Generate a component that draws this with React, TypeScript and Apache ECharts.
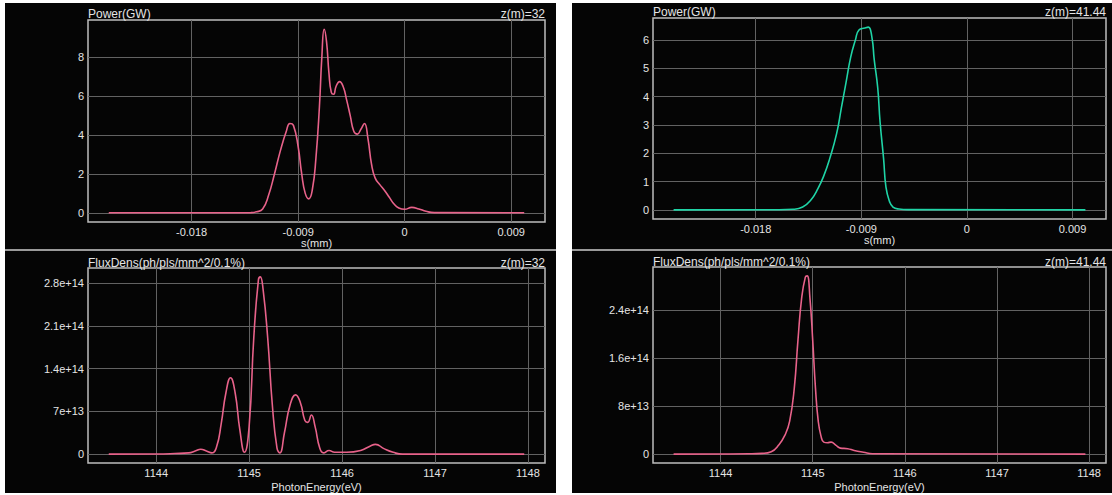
import { useEffect, useRef } from "react";
import * as echarts from "echarts";

// Tick positions shared by the panels
const sTicks = [-0.018, -0.009, 0, 0.009];
const energyTicks = [1144, 1145, 1146, 1147, 1148];
const powerTicksZ32 = [0, 2, 4, 6, 8];
const powerTicksZ4144 = [0, 1, 2, 3, 4, 5, 6];
const fluxTicksZ32 = [0, 7e13, 1.4e14, 2.1e14, 2.8e14];
const fluxTicksZ4144 = [0, 8e13, 1.6e14, 2.4e14];

// Power profile at z = 32 m
const sZ32 = [
  -0.025, -0.016, -0.013, -0.0125, -0.012, -0.0115, -0.011, -0.0105, -0.01, -0.0097,
  -0.0094, -0.009, -0.0087, -0.0084, -0.0081, -0.0078, -0.0075, -0.0072, -0.007, -0.0068,
  -0.0066, -0.0064, -0.0062, -0.006, -0.0058, -0.0055, -0.0052, -0.0049, -0.0046, -0.0043,
  -0.004, -0.0037, -0.0034, -0.0031, -0.0028, -0.0025, -0.0021, -0.0017, -0.0013, -0.0009,
  -0.0005, 0.0, 0.0006, 0.0012, 0.0018, 0.0025, 0.0101,
];
const powerZ32 = [
  0, 0, 0.01, 0.05, 0.2, 0.9, 2.0, 3.2, 4.2, 4.6,
  4.5, 3.4, 2.0, 1.0, 0.72, 1.2, 2.8, 5.5, 8.0, 9.45,
  8.8, 7.2, 6.2, 6.1, 6.5, 6.75, 6.5, 5.8, 5.0, 4.2,
  4.05, 4.3, 4.6, 3.8, 2.5, 1.8, 1.45, 1.15, 0.8, 0.45,
  0.25, 0.18, 0.28, 0.2, 0.08, 0.01, 0,
];

// Power profile at z = 41.44 m
const sZ4144 = [
  -0.025, -0.0161, -0.0148, -0.014, -0.0133, -0.0127, -0.0122, -0.0117, -0.0111, -0.0107,
  -0.0103, -0.0099, -0.0095, -0.0092, -0.0087, -0.0084, -0.0081, -0.0079, -0.0076, -0.0074,
  -0.0071, -0.0069, -0.0066, -0.0063, -0.0058, -0.005, 0.0101,
];
const powerZ4144 = [
  0, 0.005, 0.02, 0.1, 0.35, 0.75, 1.2, 1.8, 2.7, 3.6,
  4.5, 5.4, 6.0, 6.35, 6.42, 6.45, 6.1, 5.3, 4.3, 3.1,
  1.8, 0.8, 0.3, 0.1, 0.03, 0.01, 0,
];

// Spectral flux density at z = 32 m
const energyZ32 = [
  1143.49, 1144.0, 1144.2, 1144.35, 1144.42, 1144.48, 1144.54, 1144.6, 1144.65, 1144.7,
  1144.75, 1144.8, 1144.85, 1144.9, 1144.95, 1145.0, 1145.05, 1145.1, 1145.12, 1145.15,
  1145.2, 1145.25, 1145.3, 1145.33, 1145.38, 1145.44, 1145.5, 1145.55, 1145.6, 1145.63,
  1145.67, 1145.71, 1145.76, 1145.8, 1145.86, 1145.92, 1146.05, 1146.2, 1146.3, 1146.36,
  1146.45, 1146.55, 1146.65, 1147.96,
];
const fluxZ32 = [
  0, 0.003e14, 0.01e14, 0.02e14, 0.05e14, 0.08e14, 0.05e14, 0.02e14, 0.12e14, 0.5e14,
  1.0e14, 1.25e14, 1.0e14, 0.4e14, 0.03e14, 0.45e14, 1.9e14, 2.85e14, 2.9e14, 2.7e14,
  1.9e14, 0.8e14, 0.1e14, 0.02e14, 0.35e14, 0.8e14, 0.97e14, 0.85e14, 0.55e14, 0.52e14,
  0.64e14, 0.45e14, 0.1e14, 0.02e14, 0.06e14, 0.03e14, 0.03e14, 0.06e14, 0.13e14, 0.16e14,
  0.09e14, 0.03e14, 0, 0,
];

// Spectral flux density at z = 41.44 m
const energyZ4144 = [
  1143.49, 1144.0, 1144.3, 1144.45, 1144.55, 1144.63, 1144.7, 1144.75, 1144.8, 1144.84,
  1144.88, 1144.92, 1144.94, 1144.97, 1145.0, 1145.03, 1145.06, 1145.09, 1145.12, 1145.16,
  1145.2, 1145.25, 1145.3, 1145.38, 1145.45, 1145.55, 1145.65, 1147.96,
];
const fluxZ4144 = [
  0, 0.002e14, 0.005e14, 0.012e14, 0.04e14, 0.15e14, 0.32e14, 0.55e14, 1.1e14, 1.9e14,
  2.6e14, 2.95e14, 2.97e14, 2.6e14, 1.9e14, 1.1e14, 0.55e14, 0.3e14, 0.2e14, 0.19e14,
  0.2e14, 0.15e14, 0.1e14, 0.09e14, 0.06e14, 0.03e14, 0.005e14, 0,
];

const PINK = "#e8628a";
const TEAL = "#1fd4a6";
const TEXT = "#e4e4e4";
const FONT = '"Liberation Sans", Arial, sans-serif';

function paddedRange(values: number[]): [number, number] {
  const lo = Math.min(...values);
  const hi = Math.max(...values);
  const pad = (hi - lo) * 0.05;
  return [lo - pad, hi + pad];
}

function zip(xs: number[], ys: number[]) {
  return xs.map((x, i) => [x, ys[i]]);
}

const expLabel = (v: number) => (v === 0 ? "0" : v.toExponential());

export default function App() {
  const ref = useRef<HTMLDivElement>(null);

  useEffect(() => {
    if (!ref.current) return;
    const chart = echarts.init(ref.current, undefined, { renderer: "svg" });

    const grids = [
      { left: 88, top: 20, width: 457, height: 202 },
      { left: 653, top: 18, width: 453, height: 201 },
      { left: 88, top: 268, width: 457, height: 202 },
      { left: 653, top: 267, width: 453, height: 200 },
    ].map((g) => ({
      ...g,
      show: true,
      borderColor: "#bdbdbd",
      borderWidth: 1.5,
      backgroundColor: "transparent",
    }));

    const sRange = paddedRange(sZ32.concat(sZ4144));
    const eRange = paddedRange(energyZ32.concat(energyZ4144));

    const xAxisBase = (gridIndex: number, range: [number, number], ticks: number[], name: string, gap: number) => ({
      type: "value" as const,
      gridIndex,
      min: range[0],
      max: range[1],
      axisLine: { show: false },
      axisTick: { show: false, customValues: ticks },
      axisLabel: {
        customValues: ticks,
        color: TEXT,
        fontSize: 11,
        fontFamily: FONT,
        margin: 4,
        formatter: (v: number) => String(v),
      },
      splitLine: { show: true, lineStyle: { color: "#626262", width: 1 } },
      name,
      nameLocation: "middle" as const,
      nameGap: gap,
      nameTextStyle: { color: TEXT, fontSize: 11, fontFamily: FONT },
    });

    const yAxisBase = (gridIndex: number, range: [number, number], ticks: number[], fmt: (v: number) => string) => ({
      type: "value" as const,
      gridIndex,
      min: range[0],
      max: range[1],
      axisLine: { show: false },
      axisTick: { show: false, customValues: ticks },
      axisLabel: {
        customValues: ticks,
        color: TEXT,
        fontSize: 11,
        fontFamily: FONT,
        margin: 4,
        formatter: fmt,
      },
      splitLine: { show: true, lineStyle: { color: "#626262", width: 1 } },
    });

    const lineSeries = (idx: number, data: number[][], color: string) => ({
      type: "line" as const,
      xAxisIndex: idx,
      yAxisIndex: idx,
      data,
      showSymbol: false,
      smooth: 0.5,
      lineStyle: { color, width: 1.6 },
      z: 3,
    });

    const text = (x: number, y: number, str: string, align: "left" | "right") => ({
      type: "text" as const,
      x,
      y,
      style: {
        text: str,
        fill: TEXT,
        font: `12px ${FONT}`,
        textAlign: align,
        textVerticalAlign: "middle",
      },
    });

    chart.setOption({
      animation: false,
      backgroundColor: "transparent",
      grid: grids,
      xAxis: [
        xAxisBase(0, sRange, sTicks, "s(mm)", 15),
        xAxisBase(1, sRange, sTicks, "s(mm)", 15),
        xAxisBase(2, eRange, energyTicks, "PhotonEnergy(eV)", 18),
        xAxisBase(3, eRange, energyTicks, "PhotonEnergy(eV)", 18),
      ],
      yAxis: [
        yAxisBase(0, paddedRange(powerZ32), powerTicksZ32, (v) => String(v)),
        yAxisBase(1, paddedRange(powerZ4144), powerTicksZ4144, (v) => String(v)),
        yAxisBase(2, paddedRange(fluxZ32), fluxTicksZ32, expLabel),
        yAxisBase(3, paddedRange(fluxZ4144), fluxTicksZ4144, expLabel),
      ],
      series: [
        lineSeries(0, zip(sZ32, powerZ32), PINK),
        lineSeries(1, zip(sZ4144, powerZ4144), TEAL),
        lineSeries(2, zip(energyZ32, fluxZ32), PINK),
        lineSeries(3, zip(energyZ4144, fluxZ4144), PINK),
      ],
      graphic: [
        text(88, 14, "Power(GW)", "left"),
        text(545, 14, "z(m)=32", "right"),
        text(653, 12, "Power(GW)", "left"),
        text(1106, 12, "z(m)=41.44", "right"),
        text(88, 263, "FluxDens(ph/pls/mm^2/0.1%)", "left"),
        text(545, 263, "z(m)=32", "right"),
        text(653, 262, "FluxDens(ph/pls/mm^2/0.1%)", "left"),
        text(1106, 262, "z(m)=41.44", "right"),
      ],
    });

    return () => chart.dispose();
  }, []);

  const panel = (left: number, top: number, width: number, height: number) => (
    <div
      style={{
        position: "absolute",
        left,
        top,
        width,
        height,
        background: "#050505",
      }}
    />
  );

  return (
    <div
      style={{
        position: "fixed",
        left: 0,
        top: 0,
        width: 1112,
        height: 495,
        background: "#ffffff",
        overflow: "hidden",
      }}
    >
      {panel(5, 3, 551, 246)}
      {panel(5, 251, 551, 242)}
      {panel(572, 3, 540, 246)}
      {panel(572, 251, 540, 242)}
      <div style={{ position: "absolute", left: 5, top: 249, width: 551, height: 2, background: "#9a9a9a" }} />
      <div style={{ position: "absolute", left: 572, top: 249, width: 540, height: 2, background: "#9a9a9a" }} />
      <div ref={ref} style={{ position: "absolute", left: 0, top: 0, width: 1112, height: 493 }} />
    </div>
  );
}
